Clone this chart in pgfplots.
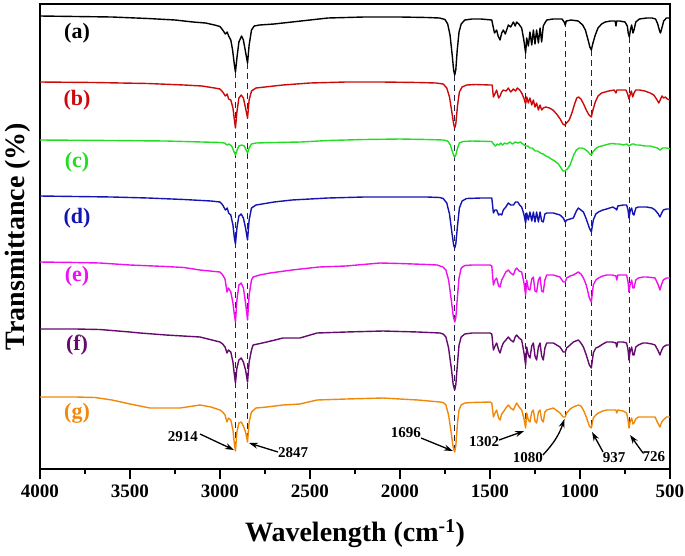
\documentclass[border=0pt]{standalone}
\usepackage{pgfplots}
\pgfplotsset{compat=1.18}
\usepackage{fontspec}
\setmainfont{Liberation Serif}
\usetikzlibrary{arrows.meta}
\definecolor{cA}{HTML}{000000}
\definecolor{cB}{HTML}{CC0A0A}
\definecolor{cC}{HTML}{22DD22}
\definecolor{cD}{HTML}{1414B4}
\definecolor{cE}{HTML}{EE10EE}
\definecolor{cF}{HTML}{650A6E}
\definecolor{cG}{HTML}{F0880A}
\definecolor{navy}{HTML}{22224E}
\begin{document}
\begin{tikzpicture}
\begin{axis}[
 width=630pt, height=465pt, scale only axis,
 xmin=500, xmax=4000, ymin=4, ymax=469,
 x dir=reverse, y dir=reverse,
 xtick={500,1000,...,4000},
 minor x tick num=1,
 ytick=\empty,
 xtick pos=left, xticklabel pos=left,
 tick align=outside,
 major tick length=10pt, minor tick length=5pt,
 every tick/.style={black, line width=1.5pt},
 axis line style={line width=1.8pt},
 /pgf/number format/assume math mode=true,
 /pgf/number format/set thousands separator={},
 xticklabel style={font=\fontsize{19}{19}\selectfont\bfseries, yshift=-2pt},
 xlabel={Wavelength (cm\textsuperscript{-1})},
 xlabel style={font=\fontsize{28}{28}\selectfont\bfseries, at={(axis description cs:0.5,0)}, anchor=north, yshift=-50pt, inner sep=0pt},
 ylabel={Transmittance (\%)},
 ylabel style={font=\fontsize{28}{28}\selectfont\bfseries, at={(axis description cs:-0.0238,0.5)}, anchor=base, inner sep=0pt},
 every axis plot/.append style={line width=1.4pt, line join=round},
]
\coordinate (SW) at (axis description cs:0,0);
\coordinate (NE) at (axis description cs:1,1);
% dashed guide lines
\addplot[navy, line width=1.3pt, dash pattern=on 6pt off 4pt] coordinates {(2914,72) (2914,451)};
\addplot[navy, line width=1.3pt, dash pattern=on 6pt off 4pt] coordinates {(2847,63) (2847,442)};
\addplot[navy, line width=1.3pt, dash pattern=on 6pt off 4pt] coordinates {(1696,75) (1696,452)};
\addplot[navy, line width=1.3pt, dash pattern=on 6pt off 4pt] coordinates {(1302,53) (1302,428)};
\addplot[navy, line width=1.3pt, dash pattern=on 6pt off 4pt] coordinates {(1080,21) (1080,417)};
\addplot[navy, line width=1.3pt, dash pattern=on 6pt off 4pt] coordinates {(937,50) (937,428)};
\addplot[navy, line width=1.3pt, dash pattern=on 6pt off 4pt] coordinates {(726,37) (726,428)};

% (a)
\addplot[cA] table {
4000 16
3800 16.5
3600 17
3400 18.5
3250 20
3150 22
3080 23
3030 25
3000 26.5
2985 30
2970 34
2960 32
2952 36
2940 40
2930 50
2920 65
2914 72
2906 58
2895 42
2880 36
2870 40
2858 52
2847 63
2838 45
2825 30
2810 26
2780 25
2700 24
2600 22
2500 20
2400 18
2200 17
2000 17
1850 17.5
1780 18
1750 19.5
1735 24
1722 35
1710 55
1702 70
1696 75
1690 70
1682 50
1672 32
1660 24
1640 20
1600 19
1550 19
1490 20
1481 28
1475 33
1463 30
1455 36
1444 40
1435 33
1426 30
1415 34
1398 25
1385 27
1370 22
1360 26
1352 22
1340 24
1324 28
1312 40
1302 53
1296 38
1287 46
1278 32
1268 45
1259 30
1250 44
1241 30
1231 43
1222 28
1213 42
1204 26
1195 23
1185 20
1150 19
1100 19
1088 22
1082 25
1076 21
1050 20
1010 21
985 25
970 30
955 40
945 47
937 50
928 43
915 35
900 28
880 24
860 22
830 21
805 21
800 26
796 21
780 21
750 22
737 26
732 33
726 37
720 30
713 25
706 33
700 30
690 22
670 19
630 18
600 18
580 19
568 24
558 31
553 33
545 28
535 21
520 18
505 18
500 19
};
% (b)
\addplot[cB] table {
4000 82
3700 82.5
3400 83.5
3200 85
3100 86
3030 88
3000 89
2985 92
2970 96
2960 94
2952 99
2940 100
2928 108
2920 120
2914 128
2906 112
2895 98
2882 95
2870 98
2858 108
2847 118
2838 100
2825 91
2800 88
2750 87
2650 85
2500 83
2300 82
2100 82
1900 82.5
1800 83
1760 84
1740 88
1725 97
1712 112
1702 124
1696 128
1690 124
1680 105
1670 92
1655 87
1630 85
1580 84.5
1500 85
1488 85
1481 97
1473 94
1463 90
1452 98
1444 96
1435 92
1426 90
1410 91
1398 88
1385 92
1370 89
1358 91
1348 88
1335 90
1324 93
1312 98
1302 104
1296 97
1287 103
1278 98
1268 105
1259 100
1250 107
1241 103
1231 110
1222 105
1213 110
1204 108
1190 107
1170 108
1150 110
1130 114
1110 119
1095 124
1085 125
1075 123
1060 120
1045 113
1030 104
1018 98
1008 97
995 99
980 104
965 110
950 115
937 117
928 110
915 102
900 96
880 93
860 92
840 91
810 90
800 93
795 90
770 90
745 90
735 94
728 99
722 95
715 91
707 97
700 93
690 90
670 90
640 91
610 93
590 95
575 99
562 103
552 99
545 96
535 98
525 97
515 99
500 100
};
% (c)
\addplot[cC] table {
4000 140
3600 140.5
3300 141
3100 142
3000 142.5
2975 143
2960 145
2950 144
2935 146
2924 151
2914 155
2905 150
2895 146
2880 145
2865 146
2855 150
2847 153
2838 148
2825 144
2800 143
2700 142.5
2550 142
2400 140.5
2200 139.5
2000 139
1850 139.5
1760 140
1735 141
1720 145
1710 151
1700 156
1696 157
1690 155
1680 148
1670 143
1650 141.5
1600 141
1490 141.5
1481 144
1470 146
1460 144
1450 145
1440 143
1430 145
1418 143
1405 144
1390 142
1375 144
1360 142
1345 143
1330 142
1318 144
1302 146
1290 146
1278 148
1265 148
1250 151
1235 151
1220 153
1205 154
1190 156
1175 157
1160 159
1140 161
1120 164
1105 168
1095 171
1085 171
1070 169
1055 165
1045 160
1035 155
1020 150
1005 148
990 148
975 149
960 151
945 154
937 155
928 152
915 149
900 147
880 146
860 145
840 144
820 143.5
800 144
780 144
760 145
740 144
728 146
720 145
710 144
700 144
690 145
670 145
640 146
610 146
590 147
570 148
555 150
540 148
520 148
500 149
};
% (d)
\addplot[cD] table {
4000 196
3800 196.5
3600 197
3400 198
3200 199.5
3050 201
3000 202
2985 205
2970 210
2960 208
2952 213
2940 215
2928 225
2920 238
2914 244
2906 228
2895 216
2882 214
2870 218
2858 228
2847 240
2838 220
2825 208
2800 205
2700 202
2600 200
2400 198
2200 197
2000 197
1850 197
1780 197.5
1760 198.5
1740 203
1725 214
1712 232
1702 245
1696 248
1690 244
1680 225
1670 208
1655 201
1630 198.5
1550 198
1490 198
1481 213
1473 210
1463 210
1452 215
1444 214
1435 215
1426 210
1412 207
1398 203
1385 205
1370 205
1358 202
1346 202
1335 205
1324 207
1312 214
1302 223
1296 213
1287 220
1278 212
1268 221
1259 212
1250 222
1241 212
1231 222
1222 212
1213 221
1204 222
1195 214
1185 213
1148 213
1111 215
1093 218
1082 222
1074 220
1055 219
1037 218
1020 211
1009 208
995 210
981 212
965 219
948 228
937 232
926 220
912 214
898 212
873 210
852 209
818 207
800 209
796 210
790 206
760 205
741 205
733 210
728 218
720 210
713 208
706 214
700 215
690 208
676 207
650 207
630 207
600 208
583 210
565 214
556 217
546 213
537 210
520 209
500 209
};
% (e)
\addplot[cE] table {
4000 262
3800 262.5
3667 263
3500 265
3300 266.5
3200 267.5
3111 270
3000 272
2985 275
2972 279
2961 292
2953 288
2940 292
2928 303
2920 315
2914 322
2906 300
2895 285
2882 283
2870 288
2858 303
2847 320
2838 295
2825 280
2816 277
2780 275
2722 273
2600 270
2450 267
2300 266
2111 263
2000 263.5
1850 264.5
1794 265
1761 267
1745 270
1730 280
1715 300
1704 316
1696 322
1690 318
1680 295
1672 278
1660 268
1640 265.5
1600 265
1500 265
1490 266
1481 285
1472 280
1463 278
1452 286
1444 287
1435 280
1426 277
1412 272
1398 270
1385 273
1370 275
1360 270
1352 268
1338 271
1324 272
1312 282
1302 295
1296 280
1287 289
1278 290
1268 279
1259 277
1250 291
1241 292
1231 280
1222 277
1213 291
1204 292
1195 280
1185 275
1148 275
1111 277
1093 282
1082 282
1074 278
1055 276
1037 275
1009 272
995 274
981 278
965 285
948 298
937 302
926 285
912 280
898 278
873 276
852 275
820 275
800 276
796 280
790 275
760 275
741 275
733 282
728 292
722 285
713 280
706 288
700 288
690 280
676 278
650 277
630 277
600 277.5
583 278
565 285
556 290
546 284
537 280
520 278
500 278
};
% (f)
\addplot[cF] table {
4000 329
3800 329
3667 329.5
3500 332
3444 333
3300 335
3111 337
3000 342
2985 344
2972 347
2961 353
2953 350
2940 352
2928 362
2920 375
2914 383
2906 368
2895 360
2882 358
2870 362
2858 370
2847 382
2838 362
2825 350
2816 345
2740 342
2650 338
2556 338
2461 333
2300 332
2094 331
1900 332
1778 333
1760 334
1745 337
1730 348
1715 368
1704 385
1696 390
1690 385
1680 362
1672 345
1660 337
1640 334
1600 333
1500 333
1490 334
1481 350
1472 346
1463 343
1452 350
1444 353
1435 347
1426 343
1412 340
1398 337
1385 340
1370 342
1360 337
1352 335
1338 338
1324 340
1312 352
1302 365
1296 347
1287 355
1278 358
1268 346
1259 343
1250 356
1241 360
1231 347
1222 343
1213 356
1204 360
1195 348
1185 343
1148 343
1111 347
1093 352
1082 352
1074 348
1055 345
1037 342
1009 340
995 343
981 347
965 355
948 365
937 368
926 353
912 348
898 347
873 344
852 342
820 342
800 343
796 347
790 342
760 342
741 343
733 350
728 360
722 352
713 347
706 355
700 355
690 347
676 345
650 343
630 343
600 344
583 345
565 351
556 355
546 350
537 347
520 345
500 345
};
% (g)
\addplot[cG] table {
4000 397
3800 397
3694 397.5
3600 400
3500 404
3389 408
3300 408
3222 408
3111 405
3050 407
3000 410
2985 412
2972 415
2961 422
2953 418
2940 420
2928 430
2920 444
2914 451
2906 432
2895 423
2882 422
2870 426
2858 432
2847 442
2838 422
2825 412
2800 408
2740 407
2650 405
2556 404
2461 400
2300 399
2094 398
2000 399
1900 400
1778 402
1760 402.5
1745 405
1730 415
1716 432
1705 447
1696 452
1690 446
1680 422
1672 410
1660 405
1640 403
1600 402.5
1500 402
1490 403
1481 417
1472 413
1463 410
1452 418
1444 420
1435 414
1426 412
1412 408
1398 405
1385 408
1370 410
1360 406
1352 403
1338 407
1324 410
1312 418
1302 428
1296 413
1287 420
1278 422
1268 412
1259 410
1250 421
1241 423
1231 412
1222 410
1213 420
1204 422
1195 412
1185 410
1148 408
1111 413
1093 417
1082 417
1074 413
1055 409
1037 407
1009 405
995 406
981 410
965 417
948 426
937 428
926 418
912 415
898 413
873 411
852 410
820 410
800 410
796 413
790 410
760 411
741 413
733 420
728 428
722 422
713 418
706 424
700 423
690 419
676 417
650 417
630 417
600 417
583 417
565 424
556 427
546 422
537 420
520 417
500 417
};

% curve labels
\node[font=\fontsize{22}{22}\selectfont\bfseries, text=cA] at (axis cs:3794,33) {(a)};
\node[font=\fontsize{22}{22}\selectfont\bfseries, text=cB] at (axis cs:3794,100) {(b)};
\node[font=\fontsize{22}{22}\selectfont\bfseries, text=cC] at (axis cs:3794,162) {(c)};
\node[font=\fontsize{22}{22}\selectfont\bfseries, text=cD] at (axis cs:3794,218) {(d)};
\node[font=\fontsize{22}{22}\selectfont\bfseries, text=cE] at (axis cs:3794,276) {(e)};
\node[font=\fontsize{22}{22}\selectfont\bfseries, text=cF] at (axis cs:3794,345) {(f)};
\node[font=\fontsize{22}{22}\selectfont\bfseries, text=cG] at (axis cs:3794,413) {(g)};

% annotations
\begin{scope}[font=\fontsize{15}{15}\selectfont\bfseries, every node/.style={inner sep=0pt}]
\node at (axis cs:3206,437) {2914};
\draw[line width=1.3pt, -{Stealth[length=9pt,width=6pt]}] (axis cs:3111,434) -- (axis cs:2922,450);
\node at (axis cs:2594,453) {2847};
\draw[line width=1.3pt, -{Stealth[length=9pt,width=6pt]}] (axis cs:2678,452) -- (axis cs:2839,443);
\node at (axis cs:1967,433) {1696};
\draw[line width=1.3pt, -{Stealth[length=9pt,width=6pt]}] (axis cs:1883,438) -- (axis cs:1706,451);
\node at (axis cs:1533,442) {1302};
\draw[line width=1.3pt, -{Stealth[length=9pt,width=6pt]}] (axis cs:1450,440) -- (axis cs:1310,431);
\node at (axis cs:1289,458) {1080};
\draw[line width=1.3pt, -{Stealth[length=9pt,width=6pt]}] (axis cs:1206,455) to[bend right=12] (axis cs:1086,419);
\node at (axis cs:811,458) {937};
\draw[line width=1.3pt, -{Stealth[length=9pt,width=6pt]}] (axis cs:872,452) -- (axis cs:933,432);
\node at (axis cs:589,457) {726};
\draw[line width=1.3pt, -{Stealth[length=9pt,width=6pt]}] (axis cs:650,453) -- (axis cs:722,435);
\end{scope}
\end{axis}
\pgfresetboundingbox
\path[use as bounding box] ([xshift=-40pt,yshift=-86pt]SW) rectangle ([xshift=15pt,yshift=4pt]NE);
\end{tikzpicture}
\end{document}
